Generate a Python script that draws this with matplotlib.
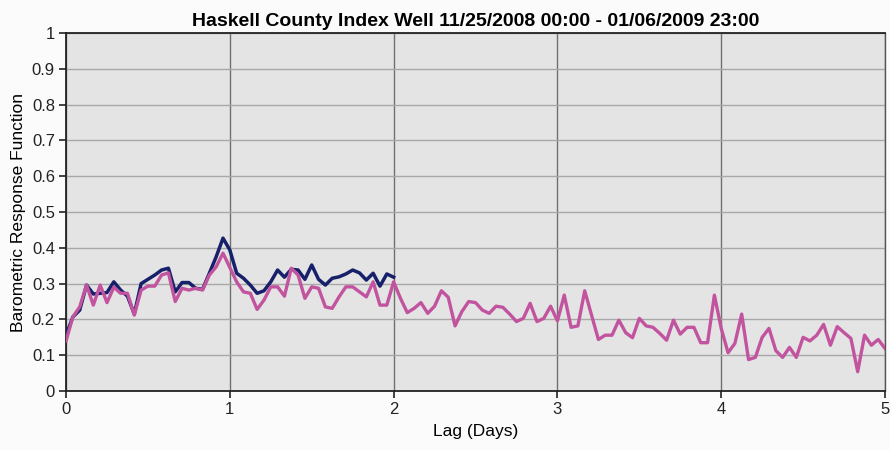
import numpy as np
import matplotlib
matplotlib.use("Agg")
import matplotlib.pyplot as plt

plt.rcParams['font.family'] = ['Liberation Sans', 'DejaVu Sans']

# hourly lags, values
navy_vals = [0.156, 0.207, 0.226, 0.296, 0.271, 0.273, 0.275, 0.305, 0.282, 0.265,
             0.215, 0.300, 0.312, 0.324, 0.338, 0.343, 0.277, 0.303, 0.303, 0.287,
             0.284, 0.329, 0.375, 0.427, 0.394, 0.329, 0.315, 0.296, 0.273, 0.280,
             0.305, 0.338, 0.318, 0.340, 0.338, 0.312, 0.352, 0.312, 0.296, 0.315,
             0.319, 0.327, 0.338, 0.330, 0.310, 0.329, 0.293, 0.327, 0.318]

pink_vals = [0.140, 0.207, 0.235, 0.296, 0.240, 0.296, 0.247, 0.290, 0.273, 0.273,
             0.212, 0.282, 0.293, 0.293, 0.324, 0.330, 0.250, 0.287, 0.282, 0.287,
             0.282, 0.324, 0.347, 0.385, 0.345, 0.305, 0.277, 0.273, 0.228, 0.254,
             0.291, 0.291, 0.265, 0.343, 0.324, 0.259, 0.291, 0.287, 0.235, 0.231,
             0.263, 0.291, 0.291, 0.277, 0.263, 0.305, 0.240, 0.240, 0.305, 0.259,
             0.219, 0.231, 0.247, 0.217, 0.237, 0.280, 0.262, 0.182, 0.222, 0.250,
             0.247, 0.226, 0.217, 0.237, 0.234, 0.215, 0.194, 0.203, 0.245, 0.194,
             0.203, 0.237, 0.196, 0.268, 0.178, 0.182, 0.280, 0.212, 0.144, 0.156,
             0.156, 0.198, 0.163, 0.149, 0.203, 0.182, 0.178, 0.161, 0.142, 0.198,
             0.159, 0.178, 0.178, 0.135, 0.135, 0.268, 0.175, 0.107, 0.133, 0.215,
             0.088, 0.094, 0.150, 0.175, 0.113, 0.094, 0.122, 0.094, 0.150, 0.140,
             0.156, 0.186, 0.128, 0.180, 0.163, 0.147, 0.054, 0.156, 0.128, 0.144,
             0.119]

navy_lag = np.arange(len(navy_vals)) / 24.0
pink_lag = np.arange(len(pink_vals)) / 24.0

fig = plt.figure(figsize=(8.9, 4.5), dpi=100, facecolor='#fbfbfb')
ax = fig.add_axes([0.0742, 0.131, 0.9202, 0.7957])
ax.set_facecolor('#e4e4e4')

ax.plot(navy_lag, navy_vals, color='#17206a', lw=2.5, zorder=3)
ax.plot(pink_lag, pink_vals, color='#c2549f', lw=2.4, zorder=4)

ax.set_xlim(0, 5)
ax.set_ylim(0, 1)
ax.set_xticks(range(6))
ax.set_yticks(np.round(np.arange(0, 1.01, 0.1), 1))
ax.set_yticklabels(['0', '0.1', '0.2', '0.3', '0.4', '0.5', '0.6', '0.7', '0.8', '0.9', '1'])

ax.yaxis.grid(True, color='#a8a8a8', lw=1.0)
ax.xaxis.grid(True, color='#707070', lw=1.0)
ax.set_axisbelow(True)

for side in ['left', 'bottom', 'top']:
    ax.spines[side].set_color('#222222')
    ax.spines[side].set_linewidth(1.3)
ax.spines['right'].set_color('#555555')
ax.spines['right'].set_linewidth(1.0)

ax.tick_params(direction='out', length=5, width=1.2, labelsize=12, colors='#222222', pad=3)

ax.set_xlabel('Lag (Days)', fontsize=12.5, labelpad=5)
ax.set_ylabel('Barometric Response Function', fontsize=12.5, labelpad=4)
ax.set_title('Haskell County Index Well 11/25/2008 00:00 - 01/06/2009 23:00',
             fontsize=14, fontweight='bold', pad=5)

fig.savefig('out.png', dpi=100, facecolor=fig.get_facecolor())
